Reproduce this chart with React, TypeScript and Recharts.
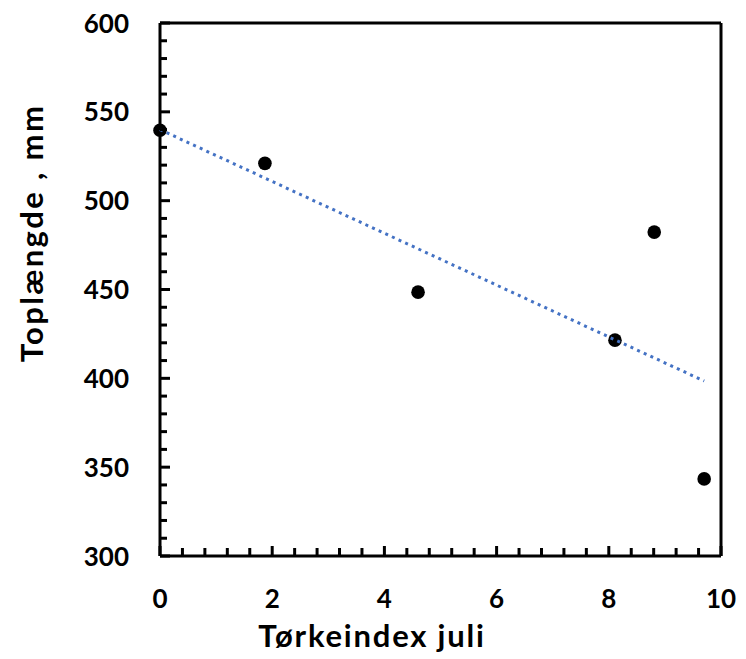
import { ScatterChart, Scatter, XAxis, YAxis, ReferenceLine } from "recharts";

const xValues = [0, 1.87, 4.6, 8.11, 8.81, 9.7];
const yValues = [539.6, 521, 448.5, 421.5, 482.3, 343.4];
const trendX = [0, 9.7];
const trendY = [540, 398.5];

const xLabels = [0, 2, 4, 6, 8, 10];
const yLabels = [300, 350, 400, 450, 500, 550, 600];

// minor ticks: every 0.4 on x, every 10 on y
const xTicks = Array.from({ length: 26 }, (_, i) => Math.round(i * 4) / 10);
const yTicks = Array.from({ length: 31 }, (_, i) => 300 + i * 10);

const points = xValues.map((x, i) => ({ x, y: yValues[i] }));
const trend = trendX.map((x, i) => ({ x, y: trendY[i] }));

const FONT = "Lato, 'Noto Sans', sans-serif";

function XTick(props: any) {
  const { x, y, payload } = props;
  const major = xLabels.includes(payload.value);
  return (
    <g>
      <line x1={x} x2={x} y1={y} y2={y - (major ? 10 : 8)} stroke="#000" strokeWidth={3} />
      {major && (
        <text x={x} y={y + 52} textAnchor="middle" fontFamily={FONT} fontWeight={700} fontSize={26} fill="#000">
          {payload.value}
        </text>
      )}
    </g>
  );
}

function YTick(props: any) {
  const { x, y, payload } = props;
  const major = yLabels.includes(payload.value);
  return (
    <g>
      <line x1={x} x2={x + (major ? 10 : 7)} y1={y} y2={y} stroke="#000" strokeWidth={3} />
      {major && (
        <text x={x - 31} y={y + 9.5} textAnchor="end" fontFamily={FONT} fontWeight={700} fontSize={26} fill="#000">
          {payload.value}
        </text>
      )}
    </g>
  );
}

const Dot = (p: any) => <circle cx={p.cx} cy={p.cy} r={6.8} fill="#000" />;

export default function App() {
  return (
    <div style={{ position: "absolute", left: 0, top: 0, background: "#fff" }}>
      <ScatterChart width={746} height={659} margin={{ top: 23, right: 25, left: 0, bottom: 0 }}>
        <XAxis
          type="number"
          dataKey="x"
          domain={[0, 10]}
          ticks={xTicks}
          interval={0}
          tickSize={0}
          tickMargin={0}
          tickLine={false}
          tick={XTick}
          height={103}
          axisLine={{ stroke: "#000", strokeWidth: 3 }}
        />
        <YAxis
          type="number"
          dataKey="y"
          domain={[300, 600]}
          ticks={yTicks}
          interval={0}
          tickSize={0}
          tickMargin={0}
          tickLine={false}
          tick={YTick}
          width={160}
          axisLine={{ stroke: "#000", strokeWidth: 3 }}
        />
        <ReferenceLine y={600} stroke="#000" strokeWidth={3} />
        <ReferenceLine x={10} stroke="#000" strokeWidth={3} />
        <Scatter data={points} shape={Dot} isAnimationActive={false} />
        <Scatter
          data={trend}
          shape={() => <g />}
          line={{ stroke: "#4472C4", strokeWidth: 3, strokeDasharray: "3 4.3" }}
          isAnimationActive={false}
        />
        <text
          x={372}
          y={647}
          textAnchor="middle"
          fontFamily={FONT}
          fontWeight={700}
          fontSize={31}
          letterSpacing={1.8}
          fill="#000"
        >
          Tørkeindex juli
        </text>
        <text
          x={43}
          y={233}
          textAnchor="middle"
          transform="rotate(-90, 43, 233)"
          fontFamily={FONT}
          fontWeight={700}
          fontSize={31}
          letterSpacing={2.4}
          fill="#000"
        >
          Toplængde , mm
        </text>
      </ScatterChart>
    </div>
  );
}
